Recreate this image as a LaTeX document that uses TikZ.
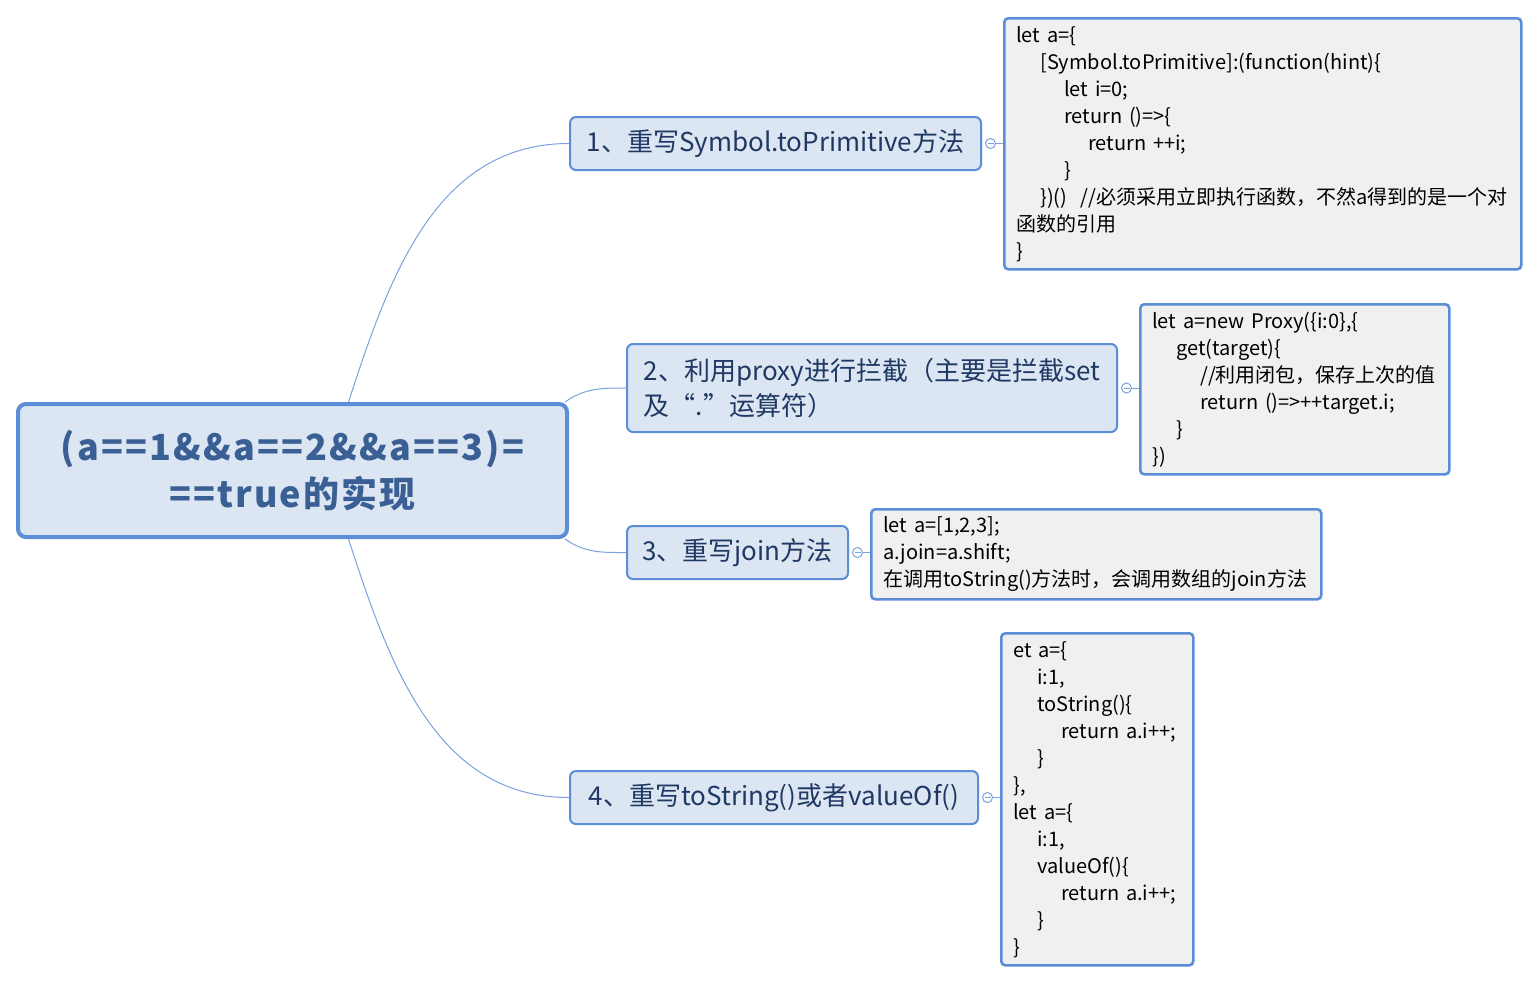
\documentclass[tikz,border=0pt]{standalone}
\usepackage{fontspec}
\setmainfont{Noto Sans CJK SC}
\usetikzlibrary{positioning}

\definecolor{edgeblue}{HTML}{5B8ED6}
\definecolor{topicfill}{HTML}{DCE6F2}
\definecolor{notefill}{HTML}{F0F0F0}
\definecolor{roottext}{HTML}{3A5F95}
\definecolor{topictext}{HTML}{1F3864}
\definecolor{linkblue}{HTML}{7AA3DE}

\newcommand{\codeind}{\hspace*{12pt}}

\tikzset{
  root/.style={draw=edgeblue,line width=2pt,fill=topicfill,rounded corners=4pt,
    text=roottext,font=\fontsize{18}{23.5}\selectfont\bfseries\addfontfeatures{LetterSpace=6},
    align=center,minimum width=274.5pt,minimum height=66.5pt},
  topic/.style={draw=edgeblue,line width=1pt,fill=topicfill,rounded corners=3pt,
    text=topictext,font=\fontsize{13}{17.5}\selectfont,anchor=west,
    minimum height=26.5pt,inner xsep=7pt},
  note/.style={draw=edgeblue,line width=1.3pt,fill=notefill,rounded corners=2pt,
    font=\fontsize{10}{13.5}\selectfont,anchor=north west,align=left,
    inner xsep=6pt,inner ysep=0pt},
  link/.style={draw=linkblue,line width=0.5pt},
  fold/.style={circle,draw=linkblue,fill=white,line width=0.5pt,inner sep=0pt,
    minimum size=5pt,path picture={\draw[linkblue,line width=0.4pt]
      ([xshift=-1.5pt]path picture bounding box.center) --
      ([xshift=1.5pt]path picture bounding box.center);}}
}

\begin{document}
\begin{tikzpicture}[x=0.5pt,y=-0.5pt]
  \useasboundingbox[fill=white] (0,0) rectangle (1537,982);

  % central topic
  \node[root] (root) at (292.5,470.5) {(a==1\&\&a==2\&\&a==3)=\\==true的实现};

  % main branches
  \node[topic,minimum width=205.5pt] (b1) at (569,143.5) {1、重写Symbol.toPrimitive方法};
  \node[topic,minimum width=245pt,minimum height=44pt,align=left] (b2) at (626,388)
    {2、利用proxy进行拦截（主要是拦截set\\及“.”运算符）};
  \node[topic,minimum width=110.5pt] (b3) at (626,552.5) {3、重写join方法};
  \node[topic,minimum width=204pt] (b4) at (569,797.5) {4、重写toString()或者valueOf()};

  % notes
  \node[note,text width=246.5pt,minimum height=125.5pt] (n1) at (1003,17) {%
    let a=\{\\
    \codeind[Symbol.toPrimitive]:(function(hint)\{\\
    \codeind\codeind let i=0;\\
    \codeind\codeind return ()=>\{\\
    \codeind\codeind\codeind return ++i;\\
    \codeind\codeind\}\\
    \codeind\})()\ \ //必须采用立即执行函数，不然a得到的是一个对\\
    函数的引用\\
    \}};
  \node[note,text width=142.5pt,minimum height=85pt] (n2) at (1139,303) {%
    let a=new Proxy(\{i:0\},\{\\
    \codeind get(target)\{\\
    \codeind\codeind//利用闭包，保存上次的值\\
    \codeind\codeind return ()=>++target.i;\\
    \codeind\}\\
    \})};
  \node[note,text width=213pt,minimum height=45pt] (n3) at (870,508) {%
    let a=[1,2,3];\\
    a.join=a.shift;\\
    在调用toString()方法时，会调用数组的join方法};
  \node[note,text width=84pt,minimum height=166pt] (n4) at (1000,632) {%
    et a=\{\\
    \codeind i:1,\\
    \codeind toString()\{\\
    \codeind\codeind return a.i++;\\
    \codeind\}\\
    \},\\
    let a=\{\\
    \codeind i:1,\\
    \codeind valueOf()\{\\
    \codeind\codeind return a.i++;\\
    \codeind\}\\
    \}};

  % fold markers
  \node[fold,right=1.5pt of b1] (f1) {};
  \node[fold,right=1.5pt of b2] (f2) {};
  \node[fold,right=1.5pt of b3] (f3) {};
  \node[fold,right=1.5pt of b4] (f4) {};

  % connectors
  \draw[link] ([xshift=28pt]root.north) to[out=72,in=180] (b1.west);
  \draw[link] ([xshift=-2pt]root.north east) to[out=35,in=180] (b2.west);
  \draw[link] ([xshift=-2pt]root.south east) to[out=-35,in=180] (b3.west);
  \draw[link] ([xshift=28pt]root.south) to[out=-72,in=180] (b4.west);
  \draw[link] (f1.east) -- (f1.east -| n1.west);
  \draw[link] (f2.east) -- (f2.east -| n2.west);
  \draw[link] (f3.east) -- (f3.east -| n3.west);
  \draw[link] (f4.east) -- (f4.east -| n4.west);
\end{tikzpicture}
\end{document}
